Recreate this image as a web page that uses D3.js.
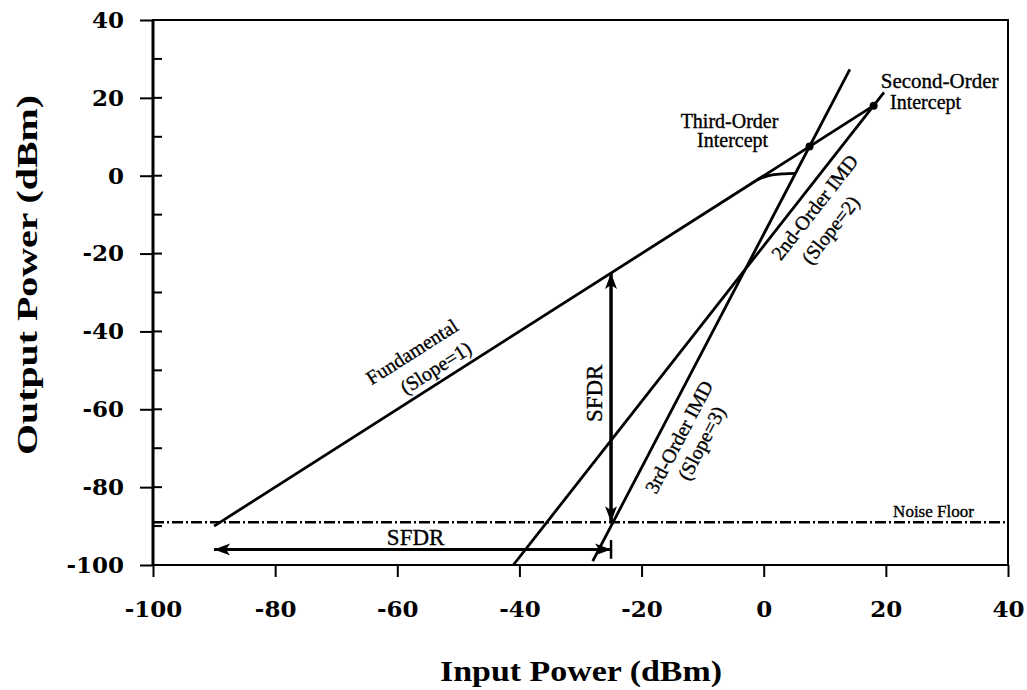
<!DOCTYPE html>
<html>
<head>
<meta charset="utf-8">
<script src="https://d3js.org/d3.v7.min.js"></script>
<style>
  body { margin: 0; background: #fff; }
  svg { display: block; }
  .ann { font-family: "Liberation Serif", "Times New Roman", serif; fill: #000; stroke: #000; stroke-width: 0.35; }
  .tick text { font-family: "DejaVu Serif", serif; font-weight: bold; font-size: 23px; fill: #000; }
  .ttl { font-family: "Liberation Serif", "Times New Roman", serif; font-weight: bold; fill: #000; }
</style>
</head>
<body>
<svg width="1027" height="690"></svg>
<script>
// axis ticks
const xTicks = [-100, -80, -60, -40, -20, 0, 20, 40];
const yTicks = [-100, -80, -60, -40, -20, 0, 20, 40];
const yMinor = [-90, -70, -50, -30, -10, 10, 30];

// lines (input dBm, output dBm)
const fundamental = [[-90, -90], [18, 18]];
const compression = [[-1, -1], [1, 0.1], [3, 0.45], [5.2, 0.6]];
const thirdOrder = [[-28, -99], [14.1, 27.3]];
const secondOrder = [[-41, -100], [19.7, 21.4]];
const noiseFloor = -89;
const intercepts = [[7.5, 7.5], [18, 18]];

// SFDR arrows
const sfdrV = { x: -25, y1: -25, y2: -89 };
const sfdrH = { y: -96, x1: -90, x2: -25 };

// annotations: text, x, y, slope used for rotation (null = flat, 'v' = vertical), size
const notes = [
  ["Third-Order", -5.6, 12.3, null, 20],
  ["Intercept", -5.1, 7.4, null, 20],
  ["Second-Order", 28.8, 22.6, null, 21],
  ["Intercept", 26.5, 17.2, null, 20],
  ["Noise Floor", 27.8, -87.7, null, 17],
  ["SFDR", -57, -94.9, null, 23],
  ["SFDR", -26.4, -55.9, "v", 23],
  ["Fundamental", -57, -46.7, 1, 20],
  ["(Slope=1)", -53.1, -50.8, 1, 20],
  ["3rd-Order IMD", -12.9, -67.9, 3, 20],
  ["(Slope=3)", -9.2, -69.5, 3, 20],
  ["2nd-Order IMD", 9.2, -9.2, 2, 20],
  ["(Slope=2)", 11.8, -15.0, 2, 20]
];

const svg = d3.select("svg");
const x = d3.scaleLinear().domain([-100, 40]).range([153, 1008]);
const y = d3.scaleLinear().domain([-100, 40]).range([565, 20]);

// frame
svg.append("rect")
  .attr("x", x(-100)).attr("y", y(40))
  .attr("width", x(40) - x(-100)).attr("height", y(-100) - y(40))
  .attr("fill", "none").attr("stroke", "#000").attr("stroke-width", 2);
svg.append("line")
  .attr("x1", x(-100)).attr("x2", x(-100)).attr("y1", y(40)).attr("y2", y(-100))
  .attr("stroke", "#000").attr("stroke-width", 3);

// x axis
const gx = svg.append("g").attr("transform", `translate(0,${y(-100)})`)
  .call(d3.axisBottom(x).tickValues(xTicks).tickSize(12).tickPadding(24).tickFormat(d => String(d)));
gx.select(".domain").remove();
gx.selectAll(".tick line").attr("stroke-width", 2);

// y axis
const gy = svg.append("g").attr("transform", `translate(${x(-100)},0)`)
  .call(d3.axisLeft(y).tickValues(yTicks).tickSize(13).tickPadding(16).tickFormat(d => String(d)));
gy.select(".domain").remove();
gy.selectAll(".tick line").attr("stroke-width", 2);

// inner ticks on y axis
svg.append("g").selectAll("line")
  .data(yTicks.concat(yMinor))
  .join("line")
  .attr("x1", x(-100)).attr("x2", x(-100) + 9)
  .attr("y1", d => y(d)).attr("y2", d => y(d))
  .attr("stroke", "#000").attr("stroke-width", 2);

// axis titles
svg.append("text").attr("class", "ttl")
  .attr("x", 581).attr("y", 681)
  .attr("text-anchor", "middle").attr("font-size", 30)
  .attr("textLength", 282).attr("lengthAdjust", "spacingAndGlyphs")
  .text("Input Power (dBm)");
svg.append("text").attr("class", "ttl")
  .attr("transform", "translate(37,275) rotate(-90)")
  .attr("text-anchor", "middle").attr("font-size", 30)
  .attr("textLength", 360).attr("lengthAdjust", "spacingAndGlyphs")
  .text("Output Power (dBm)");

// arrowhead marker
const defs = svg.append("defs");
defs.append("marker")
  .attr("id", "head")
  .attr("markerUnits", "userSpaceOnUse")
  .attr("viewBox", "0 0 16 12")
  .attr("refX", 16).attr("refY", 6)
  .attr("markerWidth", 16).attr("markerHeight", 12)
  .attr("orient", "auto-start-reverse")
  .append("path").attr("d", "M0,0 L16,6 L0,12 L4,6 Z").attr("fill", "#000");

const line = d3.line().x(d => x(d[0])).y(d => y(d[1]));

// noise floor
svg.append("line")
  .attr("x1", x(-100)).attr("x2", x(40))
  .attr("y1", y(noiseFloor)).attr("y2", y(noiseFloor))
  .attr("stroke", "#000").attr("stroke-width", 2.5)
  .attr("stroke-dasharray", "11,3,2,3");

// response lines
[fundamental, thirdOrder, secondOrder].forEach(pts => {
  svg.append("path").attr("d", line(pts))
    .attr("fill", "none").attr("stroke", "#000").attr("stroke-width", 2.8);
});
svg.append("path").attr("d", line.curve(d3.curveMonotoneX)(compression))
  .attr("fill", "none").attr("stroke", "#000").attr("stroke-width", 2.8);
line.curve(d3.curveLinear);

// intercept dots
svg.append("g").selectAll("circle")
  .data(intercepts)
  .join("circle")
  .attr("cx", d => x(d[0])).attr("cy", d => y(d[1])).attr("r", 4)
  .attr("fill", "#000");

// SFDR arrows
svg.append("line")
  .attr("x1", x(sfdrV.x)).attr("x2", x(sfdrV.x))
  .attr("y1", y(sfdrV.y1)).attr("y2", y(sfdrV.y2))
  .attr("stroke", "#000").attr("stroke-width", 3.5)
  .attr("marker-start", "url(#head)").attr("marker-end", "url(#head)");
svg.append("line")
  .attr("x1", x(sfdrH.x1)).attr("x2", x(sfdrH.x2))
  .attr("y1", y(sfdrH.y)).attr("y2", y(sfdrH.y))
  .attr("stroke", "#000").attr("stroke-width", 3)
  .attr("marker-start", "url(#head)").attr("marker-end", "url(#head)");
svg.append("line")
  .attr("x1", x(sfdrH.x2)).attr("x2", x(sfdrH.x2))
  .attr("y1", y(sfdrH.y + 2.4)).attr("y2", y(sfdrH.y - 2.4))
  .attr("stroke", "#000").attr("stroke-width", 2.5);

// annotations
const angle = m => Math.atan2(y(m) - y(0), x(1) - x(0)) * 180 / Math.PI;
svg.append("g").selectAll("text")
  .data(notes)
  .join("text")
  .attr("class", "ann")
  .attr("text-anchor", "middle")
  .attr("font-size", d => d[4])
  .attr("transform", d => {
    const r = d[3] === null ? 0 : d[3] === "v" ? -90 : angle(d[3]);
    return `translate(${x(d[1])},${y(d[2])}) rotate(${r})`;
  })
  .text(d => d[0]);
</script>
</body>
</html>
